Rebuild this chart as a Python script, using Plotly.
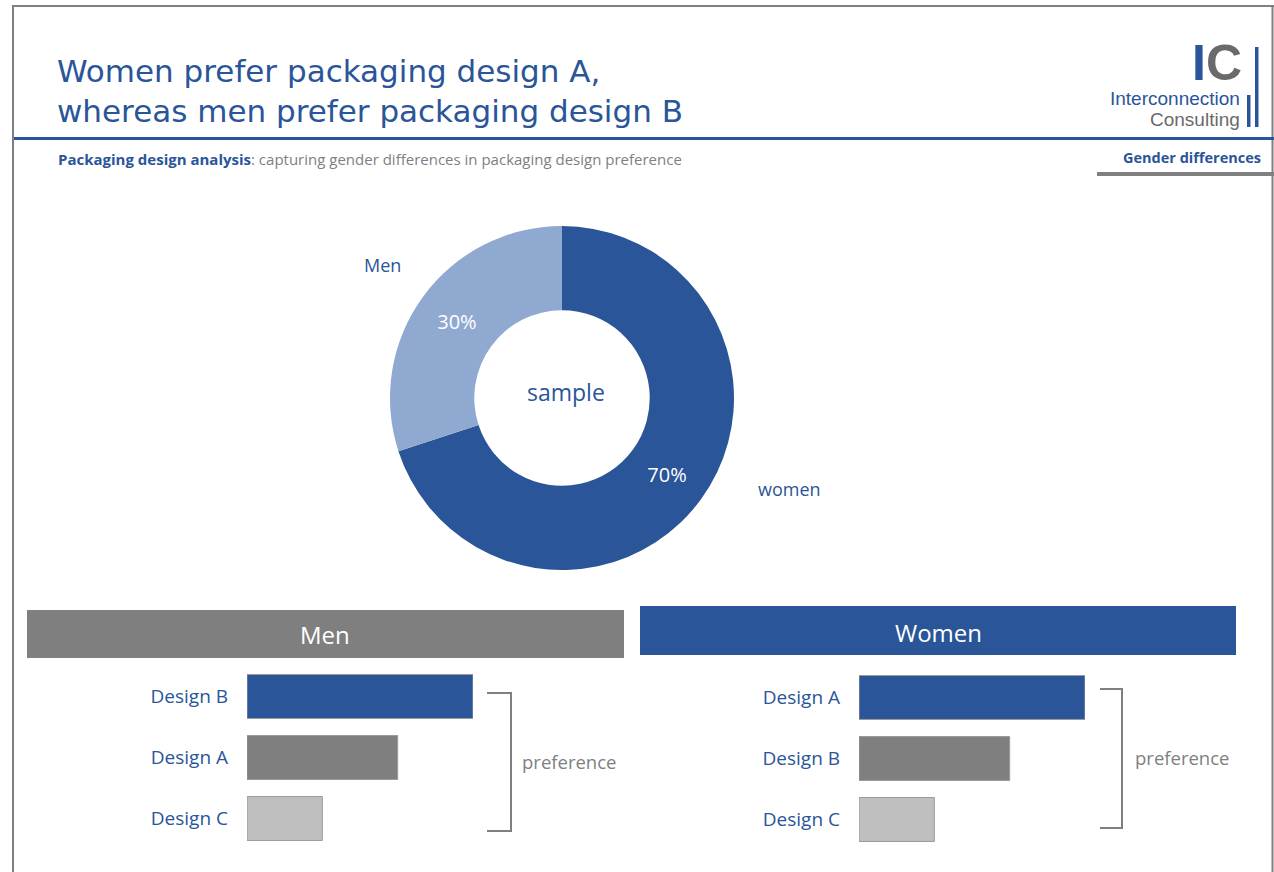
import plotly.graph_objects as go

W, H = 1274, 872
BLUE = "#2a5599"
LBLUE = "#8fa9d1"
GRAY = "#7f7f7f"
LGRAY = "#bfbfbf"
FONT = "Open Sans"

# ---- data ----
sample_labels = ["women", "Men"]
sample_shares = [70, 30]

men_designs = ["Design B", "Design A", "Design C"]
men_pref = [3, 2, 1]
women_designs = ["Design A", "Design B", "Design C"]
women_pref = [3, 2, 1]
bar_colors = [BLUE, GRAY, LGRAY]


def px(x):
    return x / W


def py(y):
    return 1 - y / H


fig = go.Figure()

# donut
fig.add_trace(go.Pie(
    labels=sample_labels, values=sample_shares, hole=0.51, sort=False,
    direction="clockwise", rotation=0,
    marker=dict(colors=[BLUE, LBLUE], line=dict(width=0)),
    texttemplate="%{value}%", textposition="inside",
    insidetextorientation="horizontal",
    textfont=dict(color="white", size=20, family=FONT),
    domain=dict(x=[px(390), px(734)], y=[py(570), py(226)]),
    showlegend=False, hoverinfo="label+percent",
))

# bars
fig.add_trace(go.Bar(
    x=men_pref, y=men_designs, orientation="h",
    marker=dict(color=bar_colors, line=dict(color="#9a9a9a", width=1)),
    xaxis="x", yaxis="y", showlegend=False, width=0.72,
))
fig.add_trace(go.Bar(
    x=women_pref, y=women_designs, orientation="h",
    marker=dict(color=bar_colors, line=dict(color="#9a9a9a", width=1)),
    xaxis="x2", yaxis="y2", showlegend=False, width=0.72,
))

yax = dict(type="category", autorange="reversed", showgrid=False, zeroline=False,
           showline=False, ticks="", ticklabelstandoff=18,
           tickfont=dict(size=19, color=BLUE, family=FONT))
fig.update_layout(
    width=W, height=H, margin=dict(l=0, r=0, t=0, b=0),
    paper_bgcolor="white", plot_bgcolor="white",
    font=dict(family=FONT),
    xaxis=dict(domain=[px(247), px(473)], range=[0, 3], visible=False, anchor="y"),
    yaxis=dict(domain=[py(849), py(666)], categoryorder="array",
               categoryarray=men_designs, anchor="x", **yax),
    xaxis2=dict(domain=[px(859), px(1085)], range=[0, 3], visible=False, anchor="y2"),
    yaxis2=dict(domain=[py(850), py(667)], categoryorder="array",
                categoryarray=women_designs, anchor="x2", **yax),
)

shapes = []
line_ = lambda x0, y0, x1, y1, c, w: dict(type="line", xref="paper", yref="paper",
                                         x0=px(x0), y0=py(y0), x1=px(x1), y1=py(y1),
                                         line=dict(color=c, width=w))
rect_ = lambda x0, y0, x1, y1, c: dict(type="rect", xref="paper", yref="paper",
                                      x0=px(x0), y0=py(y0), x1=px(x1), y1=py(y1),
                                      fillcolor=c, line=dict(width=0), layer="below")
# page border
shapes.append(line_(13, 6, 13, 872, "#808080", 2))
shapes.append(line_(12, 6, 1274, 6, "#808080", 2))
shapes.append(line_(1272.5, 6, 1272.5, 872, "#808080", 2))
# header rules
shapes.append(line_(14, 138.5, 1274, 138.5, BLUE, 3))
shapes.append(line_(1097, 174, 1274, 174, "#808080", 4))
# logo bars
shapes.append(rect_(1255, 47, 1258.5, 127, BLUE))
shapes.append(rect_(1247, 95, 1250.5, 127, BLUE))
# section headers
shapes.append(rect_(27, 610, 624, 658, GRAY))
shapes.append(rect_(640, 606, 1236, 655, BLUE))


# brackets
def bracket(x0, x1, y0, y1):
    return dict(type="path", xref="paper", yref="paper",
                path=f"M {px(x0)},{py(y0)} L {px(x1)},{py(y0)} L {px(x1)},{py(y1)} L {px(x0)},{py(y1)}",
                line=dict(color=GRAY, width=2))


shapes.append(bracket(487, 511, 693, 831))
shapes.append(bracket(1100, 1122, 689, 828))
fig.update_layout(shapes=shapes)

ann = []


def text(x, y, s, size, color, xanchor="left", weight="normal", yanchor="middle", family=FONT):
    ann.append(dict(x=px(x), y=py(y), xref="paper", yref="paper", text=s, showarrow=False,
                    xanchor=xanchor, yanchor=yanchor,
                    font=dict(size=size, color=color, family=family, weight=weight)))


text(55, 71.5, "Women prefer packaging design A,", 31, BLUE, family="DejaVu Sans")
text(55, 110.5, "whereas men prefer packaging design B", 31, BLUE, family="DejaVu Sans")
text(56, 159, f"<b><span style='color:{BLUE}'>Packaging design analysis</span></b>"
     f"<span style='color:#808080'>: capturing gender differences in packaging design preference</span>",
     15, BLUE)
text(1263, 157, "Gender differences", 14.5, BLUE, xanchor="right", weight="bold")
# logo
text(1244, 63, f"<span style='color:{BLUE}'>I</span><span style='color:#6a6a6a'>C</span>",
     50, BLUE, xanchor="right", weight="bold", family="Liberation Sans")
text(1242, 98, "Interconnection", 19, BLUE, xanchor="right", family="Liberation Sans")
text(1242, 119.5, "Consulting", 19, "#6a6a6a", xanchor="right", family="Liberation Sans")
# donut labels
text(382, 265, "Men", 18, BLUE, xanchor="center")
text(789, 489, "women", 18, BLUE, xanchor="center")
text(566, 392, "sample", 23, BLUE, xanchor="center")
# section headers
text(325, 634, "Men", 24, "white", xanchor="center")
text(938, 632, "Women", 24, "white", xanchor="center")
text(569, 761, "preference", 18.5, GRAY, xanchor="center")
text(1182, 757, "preference", 18.5, GRAY, xanchor="center")
fig.update_layout(annotations=ann)

fig.write_html("out.html")
